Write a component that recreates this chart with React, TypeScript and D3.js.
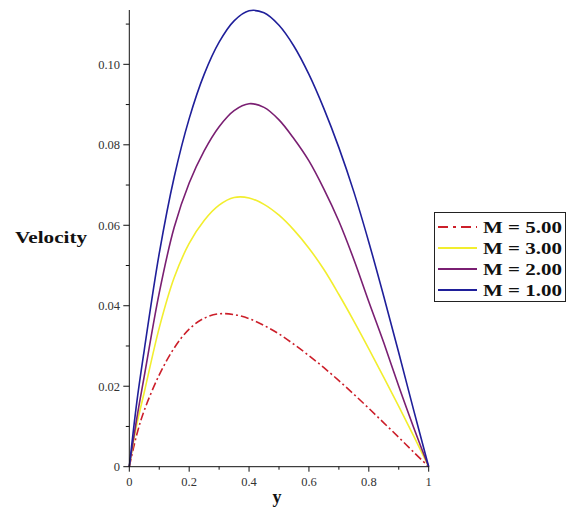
import React from "react";
import * as d3 from "d3";

const xs = [0, 0.025, 0.05, 0.1, 0.15, 0.2, 0.25, 0.3, 0.35, 0.4, 0.45, 0.5, 0.55, 0.6, 0.65, 0.7, 0.75, 0.8, 0.85, 0.9, 0.95, 1];
const m1 = [0, 0.016, 0.029, 0.053, 0.072, 0.0865, 0.0975, 0.1055, 0.1108, 0.1133, 0.1128, 0.1097, 0.1045, 0.0975, 0.089, 0.0793, 0.0683, 0.0558, 0.0423, 0.0283, 0.014, 0];
const m2 = [0, 0.012, 0.0225, 0.0432, 0.0595, 0.0705, 0.0785, 0.0845, 0.0885, 0.0902, 0.0893, 0.0862, 0.0815, 0.076, 0.069, 0.061, 0.0515, 0.041, 0.0308, 0.02, 0.0097, 0];
const m3 = [0, 0.0105, 0.0185, 0.0345, 0.047, 0.0555, 0.0612, 0.065, 0.0669, 0.0668, 0.0652, 0.0625, 0.0588, 0.0543, 0.049, 0.0428, 0.0362, 0.0293, 0.0222, 0.015, 0.0076, 0];
const m5 = [0, 0.008, 0.014, 0.0228, 0.0295, 0.0342, 0.0369, 0.038, 0.0378, 0.0368, 0.0351, 0.033, 0.0304, 0.0276, 0.0246, 0.0214, 0.018, 0.0145, 0.0109, 0.0073, 0.0036, 0];

const legendLabels = ["M = 5.00", "M = 3.00", "M = 2.00", "M = 1.00"];
const yTickLabels = ["0", "0.02", "0.04", "0.06", "0.08", "0.10"];
const xTickLabels = ["0", "0.2", "0.4", "0.6", "0.8", "1"];

const series = [
  { name: legendLabels[0], values: m5, color: "#cc1f2a", dash: "8,3,2,3" },
  { name: legendLabels[1], values: m3, color: "#f2ee2e", dash: "" },
  { name: legendLabels[2], values: m2, color: "#7a1f72", dash: "" },
  { name: legendLabels[3], values: m1, color: "#1f1f9a", dash: "" },
];

export default function App() {
  const x = d3.scaleLinear().domain([0, 1]).range([129.3, 428.7]);
  const y = d3.scaleLinear().domain([0, 0.1135]).range([466.7, 10]);
  const line = d3
    .line<number>()
    .x((_, i) => x(xs[i]))
    .y((d) => y(d))
    .curve(d3.curveCatmullRom.alpha(0.5));

  const yMajor = d3.range(0, 0.1001, 0.02);
  const yMinor = d3.range(0.01, 0.1135, 0.02);
  const xMajor = d3.range(0, 1.0001, 0.2);
  const xMinor = d3.range(0.1, 1, 0.2);
  const serif = "'Liberation Serif', 'Times New Roman', serif";

  return (
    <svg
      width={568}
      height={510}
      style={{ position: "absolute", left: 0, top: 0, background: "#fff" }}
      fontFamily={serif}
    >
      {series.map((s) => (
        <path
          key={s.name}
          d={line(s.values) || ""}
          fill="none"
          stroke={s.color}
          strokeWidth={1.6}
          strokeDasharray={s.dash || undefined}
        />
      ))}
      {/* axes */}
      <line x1={x(0)} x2={x(0)} y1={10} y2={y(0)} stroke="#111" strokeWidth={1} />
      <line x1={x(0)} x2={x(1)} y1={y(0)} y2={y(0)} stroke="#111" strokeWidth={1} />
      {yMajor.map((v, i) => (
        <g key={"ym" + i}>
          <line x1={x(0) - 6} x2={x(0)} y1={y(v)} y2={y(v)} stroke="#111" />
          <text x={120} y={y(v) + 4.5} textAnchor="end" fontSize={12.5} fill="#333">
            {yTickLabels[i]}
          </text>
        </g>
      ))}
      {yMinor.map((v, i) => (
        <line key={"yn" + i} x1={x(0) - 3.5} x2={x(0)} y1={y(v)} y2={y(v)} stroke="#111" />
      ))}
      {xMajor.map((v, i) => (
        <g key={"xm" + i}>
          <line x1={x(v)} x2={x(v)} y1={y(0)} y2={y(0) + 5} stroke="#111" />
          <text x={x(v)} y={486} textAnchor="middle" fontSize={12.5} fill="#333">
            {xTickLabels[i]}
          </text>
        </g>
      ))}
      {xMinor.map((v, i) => (
        <line key={"xn" + i} x1={x(v)} x2={x(v)} y1={y(0)} y2={y(0) + 3} stroke="#111" />
      ))}
      {/* axis titles */}
      <text
        x={15}
        y={243}
        fontSize={17}
        fontWeight="bold"
        fill="#111"
        textLength={72}
        lengthAdjust="spacingAndGlyphs"
      >
        Velocity
      </text>
      <text x={277} y={503} fontSize={18} fontWeight="bold" fill="#111" textAnchor="middle">
        y
      </text>
      {/* legend */}
      <rect x={434.5} y={212.5} width={131} height={89} fill="#fff" stroke="#222" strokeWidth={1} />
      {series.map((s, i) => {
        const ly = 227 + i * 21;
        return (
          <g key={"lg" + i}>
            <line
              x1={438}
              x2={477}
              y1={ly}
              y2={ly}
              stroke={s.color}
              strokeWidth={2}
              strokeDasharray={s.dash ? "10,5,3,5" : undefined}
            />
            <text
              x={483}
              y={ly + 6}
              fontSize={17}
              fontWeight="bold"
              fill="#111"
              textLength={79}
              lengthAdjust="spacingAndGlyphs"
            >
              {s.name}
            </text>
          </g>
        );
      })}
    </svg>
  );
}
